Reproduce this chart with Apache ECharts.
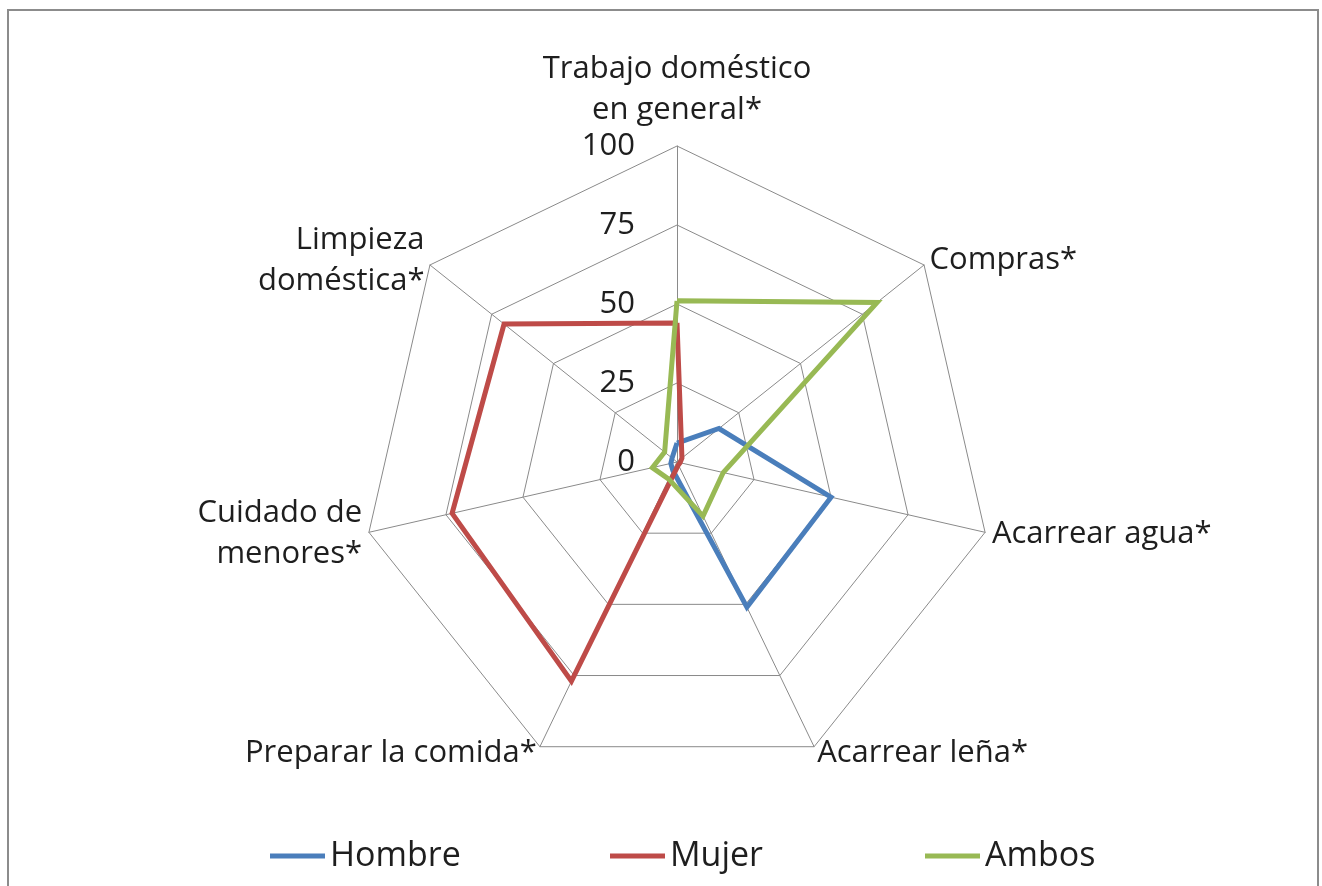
<!DOCTYPE html>
<html>
<head>
<meta charset="utf-8">
<script src="https://cdn.jsdelivr.net/npm/echarts@6/dist/echarts.min.js"></script>
<style>
  html, body { margin: 0; padding: 0; background: #fff; }
  #frame { position: absolute; left: 7px; top: 9px; width: 1312px; height: 900px; border: 2px solid #8c8c8c; box-sizing: border-box; }
  #main { position: absolute; left: 0; top: 0; width: 1322px; height: 886px; }
</style>
</head>
<body>
<div id="frame"></div>
<div id="main"></div>
<script>
// categorias en sentido horario desde arriba
var categorias = ['Trabajo doméstico\nen general*', 'Compras*', 'Acarrear agua*', 'Acarrear leña*',
                  'Preparar la comida*', 'Cuidado de\nmenores*', 'Limpieza\ndoméstica*'];
var hombre = [6, 17, 50, 51, 3, 2, 2];
var mujer  = [44, 2, 1, 1, 77, 73, 70];
var ambos  = [51, 81, 15, 19, 6, 8, 5];
var ticks  = [0, 25, 50, 75, 100];

var fuente = 'Open Sans';
var txtColor = '#1e1e1e';

// echarts dibuja el radar en sentido antihorario: se invierte el orden (menos el primero)
function horario(arr){
  var res = [arr[0]];
  for (var i = arr.length - 1; i > 0; i--) {
    res.push(arr[i]);
  }
  return res;
}

var indicadores = [];
var cats = horario(categorias);
for (var i = 0; i < cats.length; i++) {
  var ind = { name: cats[i], min: ticks[0], max: ticks[ticks.length - 1] };
  if (i == 0) {
    ind.axisLabel = { show: true };
  }
  indicadores.push(ind);
}

function serie(nombre, datos, color) {
  return {
    name: nombre,
    type: 'radar',
    symbol: 'none',
    silent: true,
    lineStyle: { color: color, width: 5, join: 'miter' },
    itemStyle: { color: color },
    data: [{ value: horario(datos), name: nombre }]
  };
}

function leyenda(nombre, x) {
  return {
    bottom: 8,
    left: x,
    icon: 'rect',
    itemWidth: 55,
    itemHeight: 5,
    textStyle: { fontSize: 34, color: txtColor, fontFamily: fuente },
    data: [nombre]
  };
}

var chart = echarts.init(document.getElementById('main'));
chart.setOption({
  animation: false,
  textStyle: { fontFamily: fuente },
  legend: [
    leyenda('Hombre', 265),
    leyenda('Mujer', 605),
    leyenda('Ambos', 920)
  ],
  radar: {
    center: [677, 462],
    radius: 316,
    startAngle: 90,
    shape: 'polygon',
    splitNumber: ticks.length - 1,
    nameGap: 7,
    axisName: { color: txtColor, fontSize: 31, fontFamily: fuente, lineHeight: 41 },
    splitLine: { lineStyle: { color: '#8a8a8a', width: 1 } },
    splitArea: { show: false },
    axisLine: { lineStyle: { color: '#8a8a8a', width: 1 } },
    axisTick: { show: false },
    axisLabel: { show: false, color: txtColor, fontSize: 31, fontFamily: fuente, margin: 42 },
    indicator: indicadores
  },
  series: [
    serie('Hombre', hombre, '#4a7ebb'),
    serie('Mujer', mujer, '#be4b48'),
    serie('Ambos', ambos, '#98b954')
  ]
});
</script>
</body>
</html>
